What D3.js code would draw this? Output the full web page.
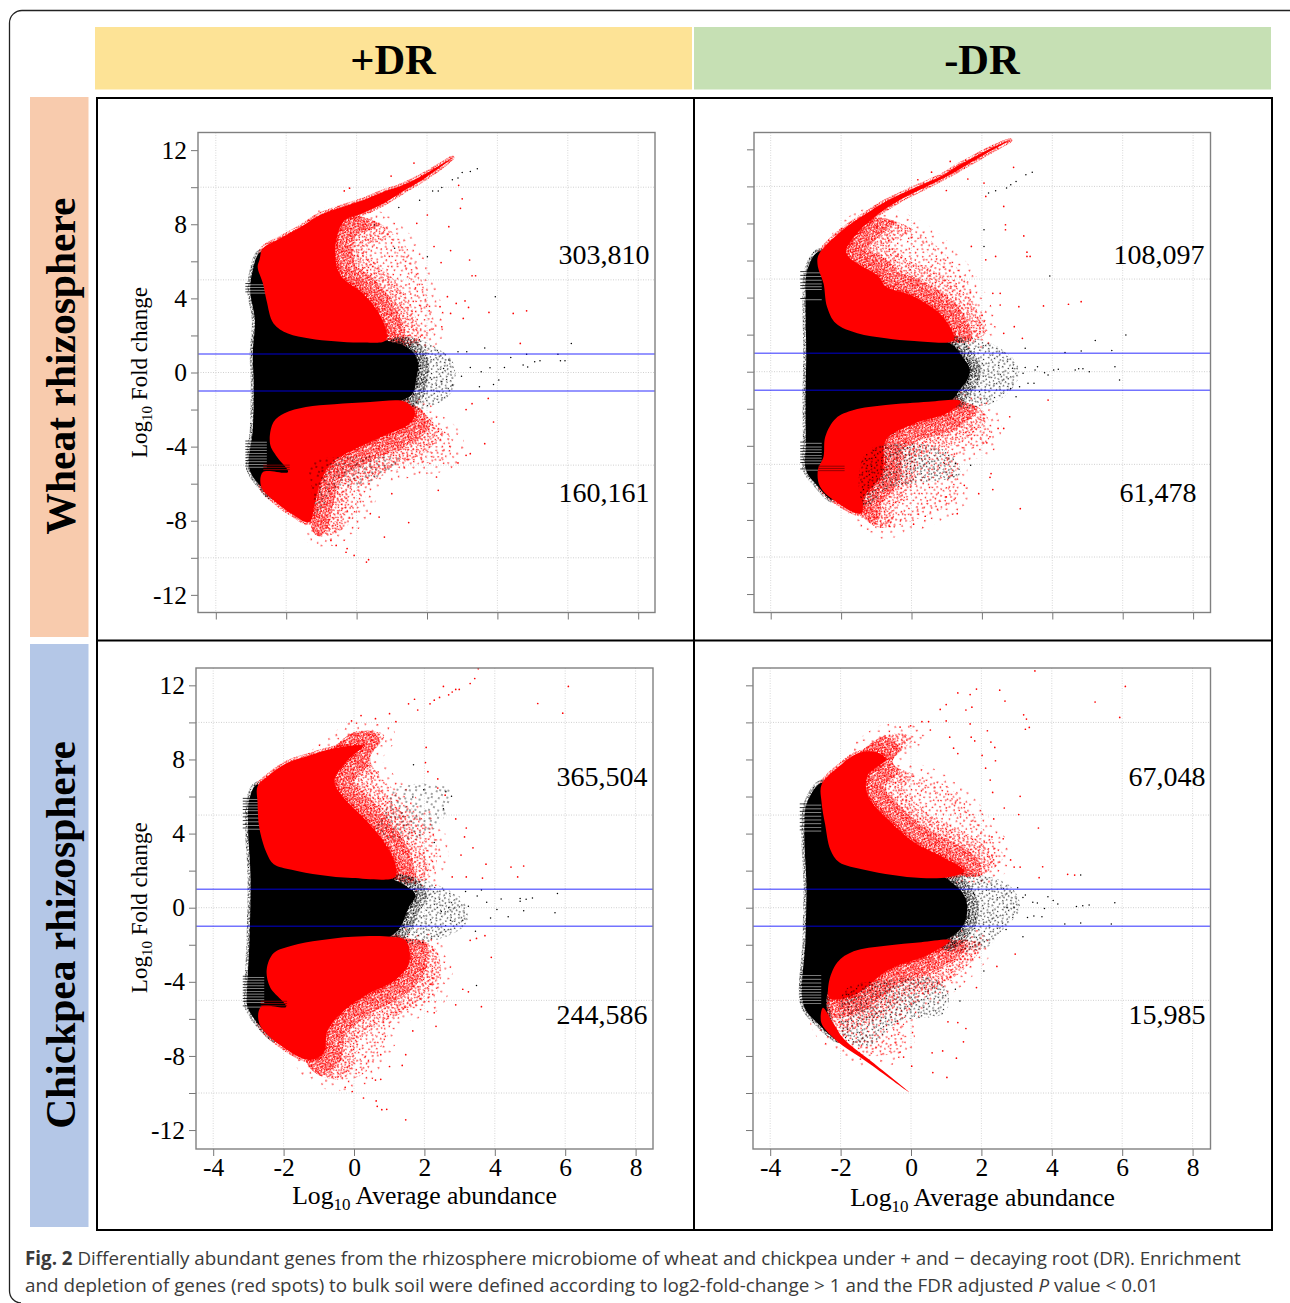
<!DOCTYPE html>
<html><head><meta charset="utf-8">
<script src="https://cdn.jsdelivr.net/npm/d3@7"></script>
<style>html,body{margin:0;padding:0;background:#fff}svg{display:block}</style>
</head><body><svg id="c" width="1290" height="1303"></svg>
<script>
// ---------- values ----------
const xTickValues=[-4,-2,0,2,4,6,8];
const yTickValues=[-12,-10,-8,-6,-4,-2,0,2,4,6,8,10,12];
const yLabelValues=[-12,-8,-4,0,4,8,12];
const xGridValues=[-4,-2,0,2,4,6,8];
const yGridValues=[-10,-5,0,5,10];
const thresholds=[1,-1];
const columnHeaders=["+DR","-DR"];
const rowHeaders=["Wheat rhizosphere","Chickpea rhizosphere"];
const enrichedCounts=["303,810","108,097","365,504","67,048"];
const depletedCounts=["160,161","61,478","244,586","15,985"];

// panel 1: wheat +DR (outlines in data units: abundance, fold change)
const body1=[[-2.71,6.5],[-2.97,5.35],[-3.02,4.36],[-2.89,2.83],[-2.95,1.03],[-2.92,-.77],[-2.95,-3.1],[-3.05,-5.19],[-2.71,-6.18],[-2.46,-6.7],[-2.2,-6.5],[0,-2.5],[1.2,-1.6],[1.6,-1.1],[1.7,-.3],[1.75,.5],[1.6,1.1],[1.3,1.5],[.9,1.7],[-1,3]];
const blackHalo1=[[.9,1.7],[1.7,1.85],[2.2,1.4],[2.7,.7],[2.8,-.5],[2.6,-1.3],[2,-1.9],[1.1,-2]];
const blackSparse1=[[-1.3,-4.9],[.3,-4.5],[1.3,-4.5],[.5,-5.8],[-.7,-6.5],[-1.1,-8],[-1.3,-6]];
const redTop1=[[-2.76,6.07],[-2.66,6.7],[-2.26,7.15],[-1.65,7.78],[-1.04,8.5],[-.43,8.92],[.18,9.3],[.79,9.77],[1.3,10.1],[1.91,10.67],[2.72,11.57],[1.95,10.5],[1.3,9.75],[.79,9.15],[.18,8.6],[-.33,8.23],[-.55,7.4],[-.6,6.1],[-.43,5.17],[.18,4.27],[.69,3],[.84,1.75],[.18,1.62],[-.63,1.69],[-1.34,1.84],[-1.95,2.1],[-2.36,2.65],[-2.56,3.9],[-2.66,4.8],[-2.81,5.7]];
const redTopHalo1=[[-1.2,7.8],[-.4,8.5],[.6,8.1],[1.4,6.8],[1.91,4.63],[2.2,2.3],[1.7,1.57],[.84,1.6],[0,3],[-1.2,5]];
const redBottom1=[[1.4,-1.59],[.39,-1.59],[-.63,-1.71],[-1.44,-1.86],[-2.05,-2.2],[-2.36,-2.67],[-2.46,-3.84],[-2.26,-4.56],[-1.95,-5.37],[-2.66,-5.37],[-2.71,-6.18],[-2.36,-6.9],[-1.85,-7.62],[-1.34,-8.07],[-1.19,-7.08],[-1.04,-6],[-.73,-4.92],[-.12,-4.2],[.69,-3.48],[1.5,-2.76],[1.66,-2.2]];
const redBottomHalo1=[[1.66,-1.8],[2.11,-2.58],[2.72,-3.66],[2.62,-4.56],[1.4,-5.1],[.39,-6],[.18,-7.08],[-.43,-8.52],[-1.14,-8.8],[-1.34,-8],[-1.6,-6],[-1,-3.5],[.7,-2.5]];
const outRed1=[[1.63,11.3],[.98,10.6],[-.35,9.8],[-.2,9.95],[2.9,10.1],[3,9.37],[2.95,8.86],[2.62,7.87],[2.01,8.5],[1.71,8.05],[2.67,6.58],[3.21,6.07],[3.28,5.22],[3.38,5.22],[2.4,5.93],[2.2,6.8],[2.58,4.09],[2.83,3.73],[3.08,3.86],[3.18,3.51],[3.76,3.24],[4.45,3.19],[4.83,3.33],[4.65,1.57],[3.03,2.92],[2.67,3.19],[2.37,3.55],[2.42,2.47],[3.89,-2.67],[3.64,-3.84],[3.23,-4.38],[3.11,-4.47],[2.88,-4.88],[2.32,-6.36],[2.27,-5.64],[1.48,-8.1],[.79,-8.88],[.64,-7.8],[.28,-10.23],[.34,-10.1],[-.07,-9.87],[-.27,-9.5],[-.3,-9.7],[-.58,-9.33],[-.73,-9.06],[3.74,-1.4],[3.28,-1.68],[3.11,-2],[1,-6.54],[.39,-7.62]];
const outBlack1=[[6.1,1.57],[3.94,4.09],[3.64,1.32],[5.72,.99],[4.83,.99],[4.38,.81],[5.21,.63],[5.06,.58],[5.92,.63],[5.79,.63],[4.73,.4],[4.86,.3],[4.2,.27],[3.79,.25],[3.54,.04],[3.23,.27],[4.04,-.41],[3.89,-.65],[3.49,-.77],[2.98,-.2],[3.13,1.12],[2.88,1.12],[2.62,.67],[2.47,.22],[2.72,-.68],[2.42,-.5],[2.01,6.25],[1.08,6.7],[2.72,10.4],[2.88,10.49],[3,10.8],[3.23,10.85],[3.43,11],[2.16,9.8],[2.32,9.8],[2.42,9.98],[1.79,9.3],[1.2,8.9],[.51,7.96]];
const rowsUp1=[4.35,4.5,4.65,4.8];
const rowsDown1=[-3.7,-3.85,-4,-4.15,-4.3,-4.45,-4.6,-4.75,-4.9,-5.05];
const rowsDark1=[-5.0,-5.12,-5.24];

// panel 2: wheat -DR
const body2=[[-2.6,6.5],[-2.96,5.5],[-3.01,3.87],[-2.99,1],[-3.01,-1.35],[-3,-3.87],[-3,-5.3],[-2.7,-6.1],[-2.25,-6.9],[-2.2,-6],[0,-2.5],[1.1,-1.6],[1.4,-.9],[1.6,-.4],[1.65,.2],[1.45,.8],[1.2,1.4],[.9,1.7],[-1,3]];
const blackHalo2=[[.9,1.7],[1.6,1.85],[2.4,1.4],[3,.4],[3,-.5],[2.5,-1.5],[1.6,-2],[1.1,-1.7]];
const blackSparse2=[[-1.2,-4.2],[.9,-4.2],[1.4,-5.5],[-.6,-6.3],[-1.3,-7.3],[-1.5,-6]];
const redTop2=[[-2.66,6.2],[-2.5,6.67],[-1.95,7.66],[-1.34,8.47],[-.73,9.19],[.08,9.91],[.89,10.6],[1.3,11.1],[1.7,11.5],[2.2,12],[2.8,12.5],[2.2,11.85],[1.7,11.3],[1.3,10.85],[.49,10.05],[-.32,9.28],[-1.03,8.38],[-1.54,7.48],[-1.85,6.4],[-.93,5.13],[-.73,4.6],[.08,4.05],[.89,2.97],[1.2,1.71],[.08,1.66],[-.73,1.8],[-1.54,2.07],[-2.15,2.61],[-2.4,3.51],[-2.5,4.77],[-2.66,5.67]];
const redTopHalo2=[[-1.14,8.29],[.08,7.66],[1.1,6.04],[1.8,4.05],[2.1,2.07],[1.2,1.6],[.3,3],[-.8,4.5],[-2,7]];
const redBottom2=[[1.3,-1.53],[.49,-1.62],[-.73,-1.8],[-1.64,-2.07],[-2.15,-2.52],[-2.45,-3.51],[-2.5,-4.59],[-2.66,-5.31],[-2.6,-6.2],[-2.15,-7.02],[-1.44,-7.65],[-1.34,-6.75],[-.83,-5.49],[-.73,-3.69],[.08,-2.79],[.99,-2.25],[1.4,-1.62]];
const redBottomHalo2=[[1.4,-1.62],[2.1,-2.25],[2.2,-3.69],[1.3,-4.6],[1.3,-6.75],[.08,-8],[-.93,-8.4],[-1.44,-7.65],[-1.6,-6],[-1.5,-3.5],[.5,-2.2]];
const outRed2=[[2.9,11.03],[1.1,11.35],[.57,10.77],[.18,10.36],[1.6,10.4],[2.06,10.18],[.99,9.78],[2.11,9.46],[2.62,8.92],[2.67,7.93],[2.67,7.66],[3.19,7.33],[3.28,6.45],[3.28,6.22],[3.37,6.22],[2.39,6.22],[1.7,6.76],[2.11,6.04],[2.52,4.23],[2.31,4.23],[2.52,3.6],[3.05,3.51],[3.75,3.55],[4.46,3.64],[4.82,3.78],[2.92,2.43],[2.62,2.07],[3.15,1.8],[3.88,-1.53],[2.79,-2.43],[2.62,-3.06],[2.46,-3.06],[2.23,-3.51],[2.14,-3.84],[2.26,-5.5],[2.23,-5.7],[2.31,-6.36],[3.09,-7.39],[1.3,-7.66],[.39,-7.8],[.06,-8.23],[-.63,-8.34],[-.88,-8.38],[1.91,-6.58],[1.5,-6.13],[.99,-6.76]];
const outBlack2=[[6.09,1.98],[5.22,1.68],[4.82,1.12],[4.36,1.03],[5.69,1.14],[5.78,.27],[5.91,-.45],[5.05,0],[4.87,.16],[4.75,.16],[4.65,.09],[4.17,.13],[4.04,.09],[3.88,-.18],[3.78,-.05],[3.58,.27],[3.51,.09],[3.48,-.63],[3.31,-.63],[3.07,-.81],[3.23,.23],[3.17,-.09],[2.87,.18],[2.82,-.9],[2.97,-1.35],[3.23,1.26],[3.93,5.17],[3.43,10.77],[3.25,10.63],[2.97,10.27],[2.82,10.09],[2.7,9.91],[2.39,9.77],[2.19,9.64],[2.06,7.66],[2.06,6.76],[1.68,-5.05],[1.25,-4.95]];
const rowsUp2=[3.95,4.5,4.65,4.8,5.0,5.2,5.4];
const rowsDown2=[-3.8,-4.0,-4.15,-4.3,-4.45,-4.6,-4.75,-4.9,-5.25];
const rowsDark2=[-5.1,-5.22,-5.34];

// panel 3: chickpea +DR
const body3=[[-2.74,6.65],[-2.97,5.87],[-3.01,4.3],[-2.94,1.76],[-2.97,-1.76],[-3.04,-4.9],[-3.02,-5.38],[-2.64,-6.46],[-2.18,-7.14],[-2,-6],[0,-2.5],[1,-1.6],[1.3,-1.1],[1.55,0],[1.75,.7],[1.45,1.2],[.9,1.7],[-1,3]];
const blackHalo3=[[.9,1.7],[1.6,1.7],[2.4,1.2],[3.1,.4],[3.2,-.8],[2.4,-1.7],[1.1,-1.8]];
const blackSparse3=[[.6,4.1],[1.8,3.7],[2.6,5],[2.7,6.4],[1.1,6.4],[.9,5.3]];
const redTop3=[[-2.74,6.56],[-2.48,7.05],[-1.88,7.83],[-1.27,8.22],[-.56,8.61],[.25,8.71],[-.15,8.02],[-.56,6.85],[-.35,6.07],[.35,4.7],[.86,3.52],[1.17,2.35],[1.17,1.66],[-.05,1.6],[-.96,1.76],[-1.77,2.05],[-2.28,2.35],[-2.48,2.94],[-2.69,4.3],[-2.74,5.67]];
const redTopHalo3=[[-.56,8.7],[.05,9.5],[.86,9.3],[.46,8],[1.27,6.07],[2.28,3.91],[2.28,1.96],[1.88,1.37],[1.17,1.55],[.2,3.5],[-1,6],[-1,8]];
const redBottom3=[[1.06,-1.57],[-.05,-1.57],[-.96,-1.76],[-1.77,-2.05],[-2.28,-2.45],[-2.48,-3.33],[-2.38,-4.3],[-1.93,-5.34],[-2.64,-5.34],[-2.69,-6.26],[-2.08,-7.44],[-1.27,-8.22],[-.86,-7.83],[-.76,-6.65],[-.35,-5.67],[.35,-4.7],[1.17,-3.91],[1.57,-2.94],[1.47,-1.76]];
const redBottomHalo3=[[1.47,-1.7],[2.28,-2.15],[2.48,-3.72],[2.18,-5.09],[1.37,-5.67],[.86,-7.24],[.25,-9],[-.76,-9.2],[-1.27,-8.6],[-1.5,-7],[-.8,-4],[.6,-3]];
const outRed3=[[3.53,12.9],[3.43,12.37],[3.3,12.1],[6.09,11.94],[2.54,11.94],[2.99,11.78],[2.89,11.78],[2.79,11.64],[2.69,11.49],[2.43,11.35],[2.28,11.2],[2.16,11],[5.22,11.02],[1.72,11.25],[1.55,11],[1.81,10.67],[5.93,10.5],[.2,10.37],[.61,10.2],[1.01,10.47],[1.19,10.04],[-.07,10.08],[2.05,8.65],[2.03,7.83],[2.1,7.34],[2.38,6.95],[2.38,6.46],[2.59,6.07],[2.89,4.79],[3.19,4.3],[3.14,3.82],[3.38,3.23],[3.04,2.84],[3.75,2.35],[4.46,2.19],[4.82,2.25],[4.65,1.66],[3.65,1.6],[3.19,1.66],[2.79,1.66],[3.9,-2.68],[3.72,-1.51],[3.48,-1.66],[3.3,-1.76],[3.25,-4.54],[3.09,-4.4],[2.89,-5.24],[3.62,-5.34],[2.33,-6.4],[2.28,-5.67],[1.67,-6.65],[1.47,-7.93],[1.37,-8.51],[1.01,-8.57],[.76,-7.93],[.76,-9.26],[.61,-9.3],[-.05,-9.92],[-.25,-9.69],[.27,-10.27],[.63,-10.43],[.66,-10.72],[.79,-10.9],[.93,-10.88],[1.47,-11.45]];
const outBlack3=[[5.78,.76],[5.71,-.27],[5.07,.53],[4.82,-.16],[4.89,.45],[4.72,.49],[4.72,.35],[4.38,-.49],[4.18,.47],[4.06,-.1],[3.88,-.55],[3.77,.29],[3.62,.96],[3.5,.63],[3.25,.08],[3.17,.88],[3.09,-.68],[3.45,-1.27],[3.48,-4.2],[2.74,-.68],[2.69,0],[2.48,-.2],[2.77,6.01],[2.61,6.26],[2.54,5.34],[1.67,5.97],[1.98,6.36],[1.69,7.71],[2.28,3.52]];
const rowsUp3=[4.3,4.5,4.7,4.9,5.1,5.3,5.45,5.6,5.75,5.9];
const rowsDown3=[-3.7,-3.85,-4,-4.15,-4.3,-4.45,-4.6,-4.75,-4.9,-5.05,-5.3];
const rowsDark3=[-5.05,-5.17,-5.29];

// panel 4: chickpea -DR
const body4=[[-2.49,6.75],[-2.95,5.68],[-3.03,4.1],[-2.97,1.17],[-3,-1.76],[-3.05,-5.28],[-2.64,-6.26],[-2.09,-7.14],[-2.3,-6.2],[-2.4,-5],[-2.2,-4],[0,-2.5],[1.2,-1.5],[1.5,-.9],[1.6,0],[1.5,.7],[1.2,1.3],[.9,1.7],[-1,3]];
const blackHalo4=[[.9,1.75],[1.8,1.8],[2.8,1.2],[3.1,0],[2.5,-1.4],[2.2,-2.1],[1.2,-2.4],[.8,-2]];
const blackSparse4=[[-1.9,-4.5],[-.7,-3.9],[.9,-4],[1,-5.6],[-.4,-6.2],[-1.2,-7.5],[-1.9,-7]];
const redTop4=[[-2.54,6.65],[-2.04,7.63],[-1.53,8.32],[-1.02,8.41],[-.72,8.02],[-1.23,7.14],[-1.23,6.07],[-.62,4.7],[.09,3.52],[.9,2.74],[1.51,1.96],[1.1,1.66],[.29,1.6],[-.52,1.76],[-1.33,2.05],[-2.04,2.45],[-2.29,3.13],[-2.44,4.5],[-2.54,5.68]];
const redTopHalo4=[[-1.6,8],[-.72,9.3],[.09,9.2],[-.52,7.83],[1.1,6.46],[2.12,4.11],[2.62,2.74],[2.02,1.76],[1.51,1.7],[.3,2.8],[-1.5,4.5],[-1.6,7.5]];
const redBottom4=[[1.1,-1.76],[.29,-1.86],[-.72,-2.05],[-1.63,-2.35],[-2.09,-2.94],[-2.34,-4.11],[-2.3,-4.9],[-1.6,-4.7],[-.62,-3.33],[.5,-2.54]];
const redBottomHalo4=[[1.1,-1.76],[2.02,-1.96],[1.3,-3.7],[-.1,-5.7],[-.3,-7.6],[-1.2,-8],[-2.14,-7.14],[-2.54,-6.26],[-2.54,-5.38],[-2.3,-4],[-1.5,-3.5],[.2,-2.3]];
const redStreak4=[[-2.5,-5.4],[-2.55,-6.2],[-2.14,-7.14],[-1.23,-8.35],[-.06,-9.94],[-1.12,-8.3],[-1.9,-7.1],[-2.25,-6.1]];
const outRed4=[[3.52,12.78],[6.09,11.94],[5.23,11.1],[5.93,10.27],[1.86,11.8],[1.33,11.59],[1.68,11.5],[2.52,11.74],[2.67,11.15],[.83,10.7],[1,10.96],[1.56,10.67],[1.73,10.82],[3.2,10.41],[3.28,10.18],[3.25,9.63],[3.36,9.73],[1.68,9.92],[2.17,9.55],[.31,10.04],[.5,10.04],[1,10.08],[.55,9.59],[-.31,9.75],[-.01,9.82],[1.1,9.2],[1.71,9.2],[1.81,9],[2.27,8.94],[2.38,8.65],[2.02,8.22],[1.33,8.32],[1.21,8.61],[2.4,7.93],[2.12,7.53],[2.25,6.89],[2.32,6.22],[3.1,6.01],[2.65,5.38],[3.06,5.03],[2.35,4.79],[3.62,4.3],[2.62,3.72],[2.3,3.82],[2.83,2.58],[3.74,2.21],[3.64,1.62],[2.93,2.19],[3.1,2.19],[4.45,1.8],[4.65,1.76],[2.96,-2.5],[2.44,-3.17],[1.86,-4.31],[1.56,-6.52],[1.49,-7.24],[1.05,-6.16],[1.33,-6.2],[1.29,-8.12],[.9,-7.73],[1.02,-9.16],[.62,-8.9],[.6,-7.83],[.02,-8.55],[-.21,-8.06],[-.31,-7.79]];
const outBlack4=[[5.79,.27],[5.06,.14],[4.88,.1],[4.7,.06],[4.82,1.76],[4.37,-.88],[4.82,-.82],[5.69,-.88],[4.04,.39],[3.89,.59],[4.17,.2],[3.72,-.49],[3.79,-.04],[3.59,.25],[3.46,.29],[3.49,-.45],[3.31,-.53],[3.25,.68],[3.18,.55],[3.18,-1.57],[2.7,-1.17],[3.03,1.08],[2.93,0],[2.73,0],[2.07,-3.42],[1.26,-4.4],[1.39,-5.03]];
const rowsUp4=[4.2,4.4,4.6,4.8,5.0,5.2,5.4,5.6];
const rowsDown4=[-3.6,-3.8,-4,-4.2,-4.35,-4.5,-4.65,-4.8,-4.95,-5.1];
const rowsDark4=[];

// caption
const captionBold="Fig. 2";
const captionLine1=" Differentially abundant genes from the rhizosphere microbiome of wheat and chickpea under + and \u2212 decaying root (DR). Enrichment";
const captionLine2a="and depletion of genes (red spots) to bulk soil were defined according to log2-fold-change > 1 and the FDR adjusted ";
const captionItalic="P";
const captionLine2b=" value < 0.01";

// ---------- layout and styles ----------
const serif='"Liberation Serif","Times New Roman",serif';
const svg=d3.select("#c");
const defs=svg.append("defs");
// stipple texture for regions too dense to list dot by dot
const tile=[[3,2],[11,5],[19,1],[27,4],[35,2],[7,9],[15,11],[23,8],[31,10],[38,8],[2,15],[10,17],[18,14],[26,16],[34,13],[6,21],[14,23],[22,20],[30,22],[37,19],[1,27],[9,29],[17,26],[25,28],[33,25],[5,33],[13,35],[21,32],[29,34],[37,31],[3,38],[11,39],[19,37],[27,39],[35,37],[8,3],[16,7],[24,13],[32,17],[39,14],[4,11],[12,19],[20,25],[28,31],[36,26],[7,25],[15,31],[23,36],[31,29],[39,34],[1,21],[9,13],[17,19],[25,23],[33,7],[12,27],[21,5],[29,15],[6,36],[36,21]];
function stipple(id,color,scale,r,rot){
  const p=defs.append("pattern").attr("id",id).attr("patternUnits","userSpaceOnUse")
    .attr("width",40).attr("height",40).attr("patternTransform",`scale(${scale}) rotate(${rot})`);
  p.selectAll("circle").data(tile).join("circle")
    .attr("cx",d=>d[0]).attr("cy",d=>d[1]).attr("r",r/scale).attr("fill",color);
}
stipple("redFar","#f00",1.45,.8,17);
stipple("redSparse","#f00",.9,.8,17);
stipple("redMid","#f00",.6,.75,31);
stipple("redDense","#f00",.38,.75,43);
stipple("blackSparse","#000",1.0,.7,17);
stipple("blackMid","#000",.7,.7,29);
stipple("blackDense","#000",.42,.7,43);

const panelLayout=[
 {x0:198,x1:655,y0:132.5,y1:612.5,xZero:356.6,yZero:372.5,yLab:true,xLab:false,cTop:[604,254],cBot:[604,492]},
 {x0:754,x1:1210.5,y0:132.5,y1:612.5,xZero:911.5,yZero:371.7,yLab:false,xLab:false,cTop:[1159,254],cBot:[1158,492]},
 {x0:196,x1:653,y0:668,y1:1149,xZero:354,yZero:907.7,yLab:true,xLab:true,cTop:[602,776],cBot:[602,1014]},
 {x0:753,x1:1210.5,y0:668,y1:1149,xZero:911,yZero:907.7,yLab:false,xLab:true,cTop:[1167,776],cBot:[1167,1014]}
];
const panelData=[
 {body:body1,bh:blackHalo1,bs:blackSparse1,bsFill:"blackSparse",rt:redTop1,rth:redTopHalo1,rb:redBottom1,rbh:redBottomHalo1,or:outRed1,ob:outBlack1,up:rowsUp1,down:rowsDown1,dark:rowsDark1},
 {body:body2,bh:blackHalo2,bs:blackSparse2,bsFill:"blackMid",rt:redTop2,rth:redTopHalo2,rb:redBottom2,rbh:redBottomHalo2,or:outRed2,ob:outBlack2,up:rowsUp2,down:rowsDown2,dark:rowsDark2},
 {body:body3,bh:blackHalo3,bs:blackSparse3,bsFill:"blackSparse",rt:redTop3,rth:redTopHalo3,rb:redBottom3,rbh:redBottomHalo3,or:outRed3,ob:outBlack3,up:rowsUp3,down:rowsDown3,dark:rowsDark3},
 {body:body4,bh:blackHalo4,bs:blackSparse4,bsFill:"blackMid",rt:redTop4,rth:redTopHalo4,rb:redBottom4,rbh:redBottomHalo4,or:outRed4,ob:outBlack4,up:rowsUp4,down:rowsDown4,dark:rowsDark4,streak:redStreak4}
];
const PXX=35.2, PXY=18.53;

// outer card
svg.append("path").attr("d","M1290,10.5 L22,10.5 A12.5,12.5 0 0 0 9.5,23 L9.5,1291 A12,12 0 0 0 21,1303")
  .attr("fill","none").attr("stroke","#222").attr("stroke-width",1.3);

// header bands
svg.append("rect").attr("x",95).attr("y",27).attr("width",597).attr("height",62.5).attr("fill","#fde396");
svg.append("rect").attr("x",694).attr("y",27).attr("width",577).attr("height",62.5).attr("fill","#c6e0b4");
svg.append("rect").attr("x",30).attr("y",97).attr("width",58.5).attr("height",540).attr("fill","#f8cbad");
svg.append("rect").attr("x",30).attr("y",644).attr("width",58.5).attr("height",583).attr("fill","#b4c7e7");
svg.selectAll("text.ch").data(columnHeaders).join("text").attr("class","ch")
  .attr("x",(d,i)=>[393,982][i]).attr("y",74).attr("text-anchor","middle")
  .style("font",`bold 42.5px ${serif}`).attr("fill","#000").text(d=>d);
svg.selectAll("text.rh").data(rowHeaders).join("text").attr("class","rh")
  .attr("transform",(d,i)=>`translate(75,${[366,935][i]}) rotate(-90)`).attr("text-anchor","middle")
  .style("font",`bold 41.5px ${serif}`).attr("fill","#000").text(d=>d);

// panels
const area=d3.line().curve(d3.curveCatmullRomClosed.alpha(.5));
panelLayout.forEach((L,i)=>{
  const D=panelData[i];
  const x=d3.scaleLinear().domain([0,1]).range([L.xZero,L.xZero+PXX]);
  const y=d3.scaleLinear().domain([0,1]).range([L.yZero,L.yZero-PXY]);
  const g=svg.append("g");
  const clipId="clip"+i;
  defs.append("clipPath").attr("id",clipId).append("rect")
    .attr("x",L.x0).attr("y",L.y0).attr("width",L.x1-L.x0).attr("height",L.y1-L.y0);
  const poly=d=>area(d.map(p=>[x(p[0]),y(p[1])]));
  const clipOf=(name,d)=>{const id=`${name}${i}`;defs.append("clipPath").attr("id",id).append("path").attr("d",poly(d));return `url(#${id})`;};

  // grid
  g.selectAll("line.gx").data(xGridValues).join("line").attr("class","gx")
    .attr("x1",d=>x(d)).attr("x2",d=>x(d)).attr("y1",L.y0).attr("y2",L.y1)
    .attr("stroke","#d8d8d8").attr("stroke-width",1).attr("stroke-dasharray","1 1.5");
  g.selectAll("line.gy").data(yGridValues).join("line").attr("class","gy")
    .attr("x1",L.x0).attr("x2",L.x1).attr("y1",d=>y(d)).attr("y2",d=>y(d))
    .attr("stroke","#d0d0d0").attr("stroke-width",1).attr("stroke-dasharray","1 1.5");

  const m=g.append("g").attr("clip-path",`url(#${clipId})`);
  // far, soft edge of the red clouds
  [D.rth,D.rbh].forEach(a=>m.append("path").attr("d",poly(a)).attr("fill","none").attr("stroke","url(#redFar)").attr("stroke-width",22));
  // sparse halos
  [D.rth,D.rbh].forEach(a=>m.append("path").attr("d",poly(a)).attr("fill","url(#redSparse)"));
  // graded fringes on the open side of the solid red
  [[D.rt,D.rth,"a"],[D.rb,D.rbh,"b"]].forEach(([solid,halo,n])=>{
    const w=m.append("g").attr("clip-path",clipOf("h"+n,halo));
    w.append("path").attr("d",poly(solid)).attr("fill","none").attr("stroke","url(#redMid)").attr("stroke-width",64);
    w.append("path").attr("d",poly(solid)).attr("fill","none").attr("stroke","url(#redDense)").attr("stroke-width",36);
  });
  // thin grain on the outer edge of the red
  [D.rt,D.rb].forEach(a=>m.append("path").attr("d",poly(a)).attr("fill","none").attr("stroke","url(#redDense)").attr("stroke-width",5));
  // black halo and body
  m.append("path").attr("d",poly(D.bh)).attr("fill","url(#blackMid)");
  m.append("g").attr("clip-path",clipOf("k",D.bh)).append("path").attr("d",poly(D.body)).attr("fill","none")
    .attr("stroke","url(#blackDense)").attr("stroke-width",22);
  m.append("path").attr("d",poly(D.body)).attr("fill","none").attr("stroke","url(#blackDense)").attr("stroke-width",6);
  m.append("path").attr("d",poly(D.body)).attr("fill","#000");
  // left-edge rows
  D.up.concat(D.down).forEach(v=>{
    m.append("line").attr("x1",x(-3.16)).attr("x2",x(-2.75)).attr("y1",y(v)).attr("y2",y(v)).attr("stroke","#000").attr("stroke-width",.8);
    m.append("line").attr("x1",x(-3.16)).attr("x2",x(-2.55)).attr("y1",y(v)+1.2).attr("y2",y(v)+1.2).attr("stroke","#fff").attr("stroke-width",.7).attr("opacity",.75);
  });
  // solid red
  [D.rt,D.rb].forEach(a=>m.append("path").attr("d",poly(a)).attr("fill","#f00"));
  if(D.streak) m.append("path").attr("d",poly(D.streak)).attr("fill","#f00");
  m.selectAll("line.dk").data(D.dark).join("line").attr("class","dk")
    .attr("x1",x(-2.65)).attr("x2",x(-1.9)).attr("y1",d=>y(d)).attr("y2",d=>y(d)).attr("stroke","#8a0000").attr("stroke-width",.9);
  m.append("path").attr("d",poly(D.bs)).attr("fill",`url(#${D.bsFill})`);
  // individually readable dots
  m.selectAll("circle.r").data(D.or).join("circle").attr("class","r")
    .attr("cx",d=>x(d[0])).attr("cy",d=>y(d[1])).attr("r",.85).attr("fill","#f00");
  m.selectAll("circle.b").data(D.ob).join("circle").attr("class","b")
    .attr("cx",d=>x(d[0])).attr("cy",d=>y(d[1])).attr("r",.75).attr("fill","#000");
  // thresholds
  m.selectAll("line.t").data(thresholds).join("line").attr("class","t")
    .attr("x1",L.x0).attr("x2",L.x1).attr("y1",d=>y(d)).attr("y2",d=>y(d))
    .attr("stroke","#0000ff").attr("stroke-opacity",.55).attr("stroke-width",1.5);

  // axes
  const ax=g.append("g").attr("transform",`translate(${L.x0},0)`)
    .call(d3.axisLeft(y).tickValues(yTickValues).tickSize(7).tickFormat(d=>(L.yLab&&yLabelValues.includes(d))?String(d):""));
  const bx=g.append("g").attr("transform",`translate(0,${L.y1})`)
    .call(d3.axisBottom(x).tickValues(xTickValues).tickSize(7).tickFormat(d=>L.xLab?String(d):""));
  [ax,bx].forEach(a=>{
    a.select(".domain").remove();
    a.selectAll("line").attr("stroke","#777").attr("stroke-width",1);
    a.selectAll("text").style("font",`25.5px ${serif}`).attr("fill","#000");
  });
  ax.selectAll("text").attr("x",-11);
  bx.selectAll("text").attr("y",9);
  g.append("rect").attr("x",L.x0).attr("y",L.y0).attr("width",L.x1-L.x0).attr("height",L.y1-L.y0)
    .attr("fill","none").attr("stroke","#808080").attr("stroke-width",1.4);

  // counts
  [[enrichedCounts[i],L.cTop],[depletedCounts[i],L.cBot]].forEach(([t,c])=>{
    g.append("text").attr("x",c[0]).attr("y",c[1]+9.5).attr("text-anchor","middle")
      .style("font",`28px ${serif}`).attr("fill","#000").text(t);
  });

  // axis titles
  if(L.yLab){
    const t=g.append("text").attr("transform",`translate(147,${L.yZero}) rotate(-90)`).attr("text-anchor","middle")
      .style("font",`23px ${serif}`).attr("fill","#000");
    t.append("tspan").text("Log");
    t.append("tspan").attr("dy",5).style("font-size","15px").text("10");
    t.append("tspan").attr("dy",-5).text(" Fold change");
  }
  if(L.xLab){
    const t=g.append("text").attr("x",i===2?424.5:982.5).attr("y",i===2?1204:1206).attr("text-anchor","middle")
      .style("font",`25.7px ${serif}`).attr("fill","#000");
    t.append("tspan").text("Log");
    t.append("tspan").attr("dy",6).style("font-size","17px").text("10");
    t.append("tspan").attr("dy",-6).text(" Average abundance");
  }
});

// frame
svg.append("rect").attr("x",97).attr("y",98).attr("width",1175).attr("height",1132)
  .attr("fill","none").attr("stroke","#000").attr("stroke-width",2);
svg.append("line").attr("x1",694).attr("x2",694).attr("y1",98).attr("y2",1230).attr("stroke","#000").attr("stroke-width",2);
svg.append("line").attr("x1",97).attr("x2",1272).attr("y1",640.5).attr("y2",640.5).attr("stroke","#000").attr("stroke-width",2);

// caption: font size is fitted to the measured line width
const capFont='"Open Sans","Noto Sans",sans-serif';
function captionText(yPos,targetWidth,parts){
  const t=svg.append("text").attr("x",25).attr("y",yPos).attr("fill","#3a3a3a").style("font-family",capFont).style("font-size","19px").attr("xml:space","preserve");
  parts.forEach(([s,st])=>{const sp=t.append("tspan").text(s); if(st==="b")sp.style("font-weight","700"); if(st==="i")sp.style("font-style","italic");});
  const w=t.node().getComputedTextLength();
  t.style("font-size",(19*targetWidth/w)+"px");
}
captionText(1265,1217,[[captionBold,"b"],[captionLine1,""]]);
captionText(1292,1134,[[captionLine2a,""],[captionItalic,"i"],[captionLine2b,""]]);
</script></body></html>
